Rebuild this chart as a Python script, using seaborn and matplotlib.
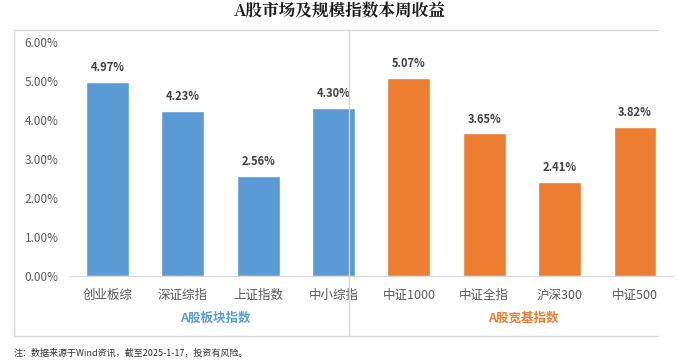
import pandas as pd
import seaborn as sns
import matplotlib.pyplot as plt
from matplotlib.lines import Line2D

# dati: rendimento settimanale degli indici (%)
nomi = ["创业板综", "深证综指", "上证指数", "中小综指", "中证1000", "中证全指", "沪深300", "中证500"]
rendimenti = [4.97, 4.23, 2.56, 4.30, 5.07, 3.65, 2.41, 3.82]
gruppi = ["A股板块指数"] * 4 + ["A股宽基指数"] * 4
colori = {"A股板块指数": "#5B9BD5", "A股宽基指数": "#ED7D31"}
yticks = [0, 1, 2, 3, 4, 5, 6]

df = pd.DataFrame({"nome": nomi, "rendimento": rendimenti, "gruppo": gruppi})

sns.set_style("white")
plt.rcParams["font.family"] = ["Noto Sans CJK SC", "DejaVu Sans"]

W, H = 679, 363
fig = plt.figure(figsize=(W / 100, H / 100), dpi=100)
ax = fig.add_axes([69.8 / W, 1 - 276 / H, (672.7 - 69.8) / W, (276 - 41.5) / H])

sns.barplot(data=df, x="nome", y="rendimento", hue="gruppo", palette=colori,
            dodge=False, width=0.57, legend=False, ax=ax, saturation=1)

# etichette sopra le barre
for i, v in enumerate(rendimenti):
    ax.text(i, v + 0.2, f"{v:.2f}%", ha="center", va="bottom",
            fontsize=8, fontweight="bold", color="#404040")

ax.set_xlim(-0.5, 7.5)
ax.set_ylim(0, 6)
ax.set_yticks(yticks)
ax.set_yticklabels([f"{t:.2f}%" for t in yticks], fontsize=8.5, color="#595959")
ax.tick_params(axis="x", labelsize=9, labelcolor="#595959", length=0, pad=9)
ax.tick_params(axis="y", length=0, pad=8)
ax.set_xlabel("")
ax.set_ylabel("")
for s in ["top", "right", "left"]:
    ax.spines[s].set_visible(False)
ax.spines["bottom"].set_color("#D9D9D9")

# cornice (tre lati) e separatore
x0, x1, y0, y1 = 14 / W, 658 / W, 1 - 336 / H, 1 - 30 / H
for xs, ys in [([x0, x1], [y1, y1]), ([x0, x1], [y0, y0]), ([x0, x0], [y0, y1]),
               ([349 / W, 349 / W], [y0, y1])]:
    fig.lines.append(Line2D(xs, ys, transform=fig.transFigure,
                            color="#D9D9D9", linewidth=1))

# etichette dei gruppi
fig.text(215 / W, 1 - 318 / H, "A股板块指数", ha="center", va="center",
         fontsize=9, fontweight="bold", color="#5B9BD5")
fig.text(523 / W, 1 - 318 / H, "A股宽基指数", ha="center", va="center",
         fontsize=9, fontweight="bold", color="#ED7D31")

fig.text(340 / W, 1 - 12 / H, "A股市场及规模指数本周收益", ha="center", va="center",
         fontsize=12, fontweight="bold", color="#1a1a1a",
         family=["Noto Serif CJK SC", "Noto Sans CJK SC", "DejaVu Sans"])
fig.text(14 / W, 1 - 353 / H, "注：数据来源于Wind资讯，截至2025-1-17，投资有风险。",
         ha="left", va="center", fontsize=6.5, color="#333333")

fig.savefig("out.png", dpi=100)
